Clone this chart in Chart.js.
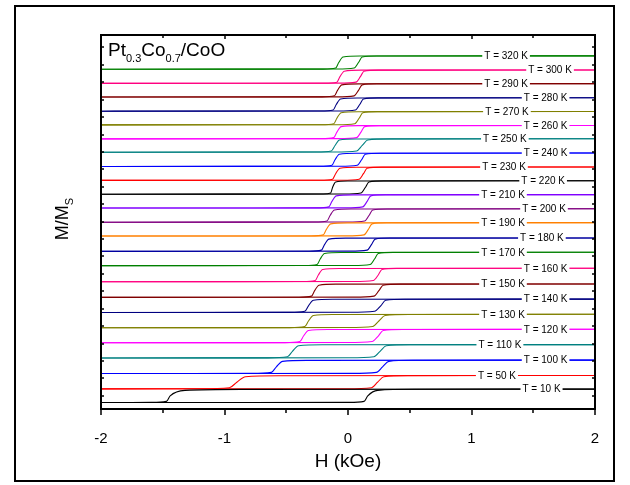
<!DOCTYPE html>
<html>
<head>
<meta charset="utf-8">
<script src="https://cdn.jsdelivr.net/npm/chart.js@4.4.0/dist/chart.umd.min.js"></script>
<style>
  html, body { margin: 0; padding: 0; background: #fff; }
</style>
</head>
<body>
<canvas id="myChart" width="630" height="485"></canvas>
<script>
// temperatures (K), bottom to top
var temps = [10, 50, 100, 110, 120, 130, 140, 150, 160, 170, 180, 190, 200, 210, 220, 230, 240, 250, 260, 270, 280, 290, 300, 320];
var colors = ['#000000', '#FF0000', '#0000FF', '#008080', '#FF00FF', '#808000', '#000080', '#800000', '#FF0080', '#008000', '#0000A0', '#FF8000',
              '#800080', '#8000FF', '#000000', '#FF0000', '#0000FF', '#008080', '#FF00FF', '#808000', '#000080', '#800000', '#FF0080', '#008000'];
// vertical shift of each loop (M/Ms units)
var shifts = [0, 2.04, 4.33, 6.65, 8.93, 11.17, 13.44, 15.70, 18.04, 20.43, 22.57, 24.85,
              26.92, 29.03, 31.10, 33.16, 35.24, 37.37, 39.36, 41.44, 43.49, 45.60, 47.64, 49.75];
// switching fields (kOe): descending branch and ascending branch
var hcDown = [-1.44, -0.90, -0.58, -0.45, -0.36, -0.32, -0.32, -0.27, -0.24, -0.225, -0.19, -0.175,
              -0.145, -0.13, -0.125, -0.10, -0.105, -0.105, -0.09, -0.09, -0.095, -0.085, -0.065, -0.075];
var hcUp = [0.16, 0.24, 0.28, 0.26, 0.245, 0.25, 0.265, 0.25, 0.245, 0.215, 0.19, 0.165,
            0.17, 0.155, 0.14, 0.125, 0.11, 0.115, 0.105, 0.09, 0.095, 0.085, 0.10, 0.085];
// how wide each switch is (kOe): shoulder side / tail side
var downShoulder = [0.12, 0.07, 0.05, 0.05, 0.04, 0.04, 0.04, 0.035, 0.035, 0.035, 0.035, 0.035,
                    0.035, 0.035, 0.025, 0.035, 0.035, 0.035, 0.035, 0.035, 0.035, 0.035, 0.035, 0.035];
var downTail = [0.03, 0.06, 0.04, 0.04, 0.03, 0.03, 0.03, 0.025, 0.025, 0.025, 0.025, 0.025,
                0.025, 0.025, 0.015, 0.025, 0.025, 0.03, 0.025, 0.025, 0.025, 0.025, 0.025, 0.025];
var upShoulder = [0.03, 0.05, 0.05, 0.05, 0.05, 0.05, 0.05, 0.04, 0.04, 0.035, 0.035, 0.035,
                  0.035, 0.035, 0.035, 0.035, 0.035, 0.045, 0.035, 0.035, 0.035, 0.035, 0.035, 0.035];
var upTail = [0.08, 0.05, 0.05, 0.05, 0.04, 0.05, 0.04, 0.035, 0.03, 0.03, 0.03, 0.03,
              0.03, 0.03, 0.03, 0.03, 0.03, 0.045, 0.03, 0.03, 0.03, 0.03, 0.03, 0.03];
// where the "T = ... K" labels sit along H (kOe)
var labelH = [1.567, 1.206, 1.6, 1.23, 1.6, 1.255, 1.6, 1.255, 1.6, 1.255, 1.57, 1.255,
              1.587, 1.255, 1.58, 1.263, 1.6, 1.27, 1.6, 1.287, 1.6, 1.28, 1.636, 1.28];
var xTicks = [-2, -1, 0, 1, 2];
var yTickStep = 2.6;

var FONT = '"Liberation Sans", Arial, Helvetica, sans-serif';

function upperBranch(i) {
    var hc = hcDown[i], a = downShoulder[i], b = downTail[i], s = shifts[i];
    return [[-2, -1], [hc - 5 * b, -0.98], [hc - b, -0.82], [hc, 0], [hc + a, 0.82], [hc + 5 * a, 0.97], [2, 1]]
        .map(function(p) { return {x: p[0], y: p[1] + s}; });
}
function lowerBranch(i) {
    var hc = hcUp[i], a = upShoulder[i], b = upTail[i], s = shifts[i];
    return [[-2, -1], [hc - 5 * a, -0.97], [hc - a, -0.82], [hc, 0], [hc + b, 0.82], [hc + 5 * b, 0.98], [2, 1]]
        .map(function(p) { return {x: p[0], y: p[1] + s}; });
}

var datasets = [];
temps.forEach(function(t, i) {
    [upperBranch(i), lowerBranch(i)].forEach(function(pts) {
        datasets.push({
            label: t + ' K',
            data: pts,
            borderColor: colors[i],
            borderWidth: 1.1,
            pointRadius: 0,
            showLine: true,
            fill: false,
            cubicInterpolationMode: 'monotone'
        });
    });
});

function drawRich(ctx, parts, x, y, size, subSize, subDrop) {
    parts.forEach(function(p) {
        ctx.font = (p.sub ? subSize : size) + 'px ' + FONT;
        ctx.fillText(p.t, x, y + (p.sub ? subDrop : 0));
        x += ctx.measureText(p.t).width;
    });
}
function richWidth(ctx, parts, size, subSize) {
    var w = 0;
    parts.forEach(function(p) {
        ctx.font = (p.sub ? subSize : size) + 'px ' + FONT;
        w += ctx.measureText(p.t).width;
    });
    return w;
}

var decor = {
    id: 'decor',
    afterDatasetsDraw: function(chart) {
        var ctx = chart.ctx, a = chart.chartArea;
        var xs = chart.scales.x, ys = chart.scales.y;
        ctx.save();

        // temperature labels on the lines
        ctx.font = '10px ' + FONT;
        ctx.textAlign = 'center';
        ctx.textBaseline = 'middle';
        temps.forEach(function(t, i) {
            var txt = 'T = ' + t + ' K';
            var px = xs.getPixelForValue(labelH[i]);
            var py = ys.getPixelForValue(shifts[i] + 1);
            var w = ctx.measureText(txt).width;
            ctx.fillStyle = '#fff';
            ctx.fillRect(px - w / 2 - 2, py - 4, w + 4, 8);
            ctx.fillStyle = '#000';
            ctx.fillText(txt, px, py + 0.5);
        });

        // plot box
        ctx.strokeStyle = '#000';
        ctx.lineWidth = 2;
        ctx.strokeRect(a.left, a.top, a.right - a.left, a.bottom - a.top);

        // ticks
        ctx.lineWidth = 1.5;
        ctx.beginPath();
        for (var k = 0; k <= 8; k++) {
            var v = -2 + k * 0.5;
            var px = Math.round(xs.getPixelForValue(v));
            var major = k % 2 === 0;
            ctx.moveTo(px, a.bottom);
            ctx.lineTo(px, a.bottom + (major ? 6 : 4));
            ctx.moveTo(px, a.top);
            ctx.lineTo(px, a.top + (major ? 4 : 3));
        }
        for (var yv = 0; yv <= ys.max; yv += yTickStep) {
            var py = Math.round(ys.getPixelForValue(yv));
            ctx.moveTo(a.left, py);
            ctx.lineTo(a.left + 3, py);
            ctx.moveTo(a.right, py);
            ctx.lineTo(a.right - 3, py);
        }
        ctx.stroke();

        // sample name
        ctx.fillStyle = '#000';
        ctx.textAlign = 'left';
        ctx.textBaseline = 'alphabetic';
        drawRich(ctx, [{t: 'Pt'}, {t: '0.3', sub: true}, {t: 'Co'}, {t: '0.7', sub: true}, {t: '/CoO'}],
                 108, 56, 19, 11, 6);

        // y title M/Ms
        var yParts = [{t: 'M/M'}, {t: 'S', sub: true}];
        var yw = richWidth(ctx, yParts, 18, 11);
        ctx.translate(68, 219);
        ctx.rotate(-Math.PI / 2);
        drawRich(ctx, yParts, -yw / 2, 0, 18, 11, 5);
        ctx.restore();

        // outer frame
        ctx.save();
        ctx.strokeStyle = '#000';
        ctx.lineWidth = 2;
        ctx.strokeRect(15, 6, 599, 475);
        ctx.restore();
    }
};

var ctx = document.getElementById('myChart').getContext('2d');
var chart = new Chart(ctx, {
    type: 'scatter',
    data: { datasets: datasets },
    options: {
        responsive: false,
        animation: false,
        layout: { padding: { top: 35, right: 35, bottom: 0, left: 0 } },
        plugins: { legend: { display: false }, tooltip: { enabled: false } },
        scales: {
            x: {
                type: 'linear',
                min: -2,
                max: 2,
                afterFit: function(s) { s.height = 76; },
                afterBuildTicks: function(s) { s.ticks = xTicks.map(function(v) { return {value: v}; }); },
                grid: { display: false },
                border: { display: false },
                ticks: { color: '#000', font: { family: FONT, size: 15 }, padding: 13 },
                title: { display: true, text: 'H (kOe)', color: '#000', font: { family: FONT, size: 19 }, padding: { top: 0, bottom: 12 } }
            },
            y: {
                type: 'linear',
                min: -1.963,
                max: 53.86,
                afterFit: function(s) { s.width = 101; },
                grid: { display: false },
                border: { display: false },
                ticks: { display: false }
            }
        }
    },
    plugins: [decor]
});
</script>
</body>
</html>
